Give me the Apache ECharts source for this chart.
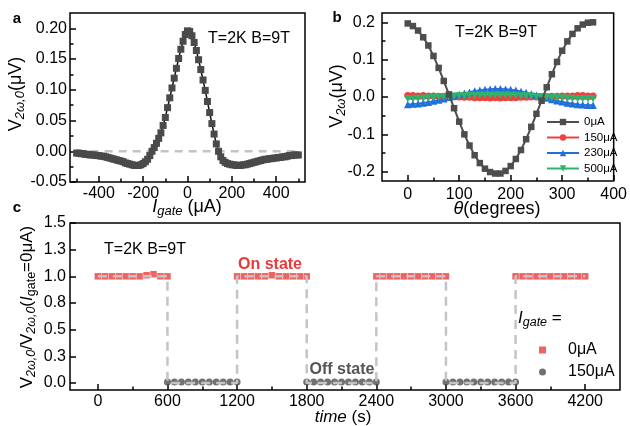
<!DOCTYPE html>
<html><head><meta charset="utf-8">
<script src="https://cdn.jsdelivr.net/npm/echarts@6/dist/echarts.min.js"></script>
<style>html,body{margin:0;padding:0;background:#fff}#c{width:630px;height:426px}</style>
</head><body><div id="c"></div>
<script>
// ---------- Panel a data ----------
const gateCurrent = [
 -500,-490,-480,-470,-460,-450,-440,-430,-420,-410,
 -400,-390,-380,-370,-360,-350,-340,-330,-320,-310,
 -300,-290,-280,-270,-260,-250,-240,-230,-220,-210,
 -200,-190,-180,-170,-160,-150,-140,-130,-120,-110,
 -100,-90,-80,-70,-60,-50,-40,-30,-20,-10,
 0,10,20,30,40,50,60,70,80,90,
 100,110,120,130,140,150,160,170,180,190,
 200,210,220,230,240,250,260,270,280,290,
 300,310,320,330,340,350,360,370,380,390,
 400,410,420,430,440,450,460,470,480,490,500];
const voltageA = [
 -0.003,-0.003,-0.004,-0.004,-0.005,-0.005,-0.006,-0.006,-0.006,-0.007,
 -0.007,-0.008,-0.008,-0.009,-0.010,-0.011,-0.012,-0.013,-0.014,-0.015,
 -0.016,-0.017,-0.019,-0.020,-0.021,-0.022,-0.023,-0.023,-0.023,-0.022,
 -0.020,-0.017,-0.013,-0.007,0.000,0.006,0.013,0.021,0.030,0.042,
 0.055,0.071,0.087,0.103,0.119,0.135,0.151,0.166,0.179,0.190,
 0.196,0.195,0.188,0.177,0.164,0.149,0.133,0.116,0.099,0.081,
 0.063,0.045,0.028,0.012,0.000,-0.009,-0.015,-0.018,-0.020,-0.021,
 -0.022,-0.022,-0.023,-0.023,-0.023,-0.022,-0.022,-0.021,-0.020,-0.019,
 -0.018,-0.017,-0.016,-0.015,-0.014,-0.013,-0.013,-0.012,-0.012,-0.011,
 -0.011,-0.010,-0.010,-0.009,-0.009,-0.008,-0.007,-0.007,-0.006,-0.006,-0.006];
const zeroLevel = 0;
const aXTicks = [-400,-200,0,200,400];
const aXMinor = [-500,-300,-100,100,300,500];
const aYTicks = [-0.05,0,0.05,0.10,0.15,0.20];
const aYMinor = [-0.025,0.025,0.075,0.125,0.175];

// ---------- Panel b data ----------
const angleDeg = [0,10,20,30,40,50,60,70,80,90,100,110,120,130,140,150,160,170,180,
 190,200,210,220,230,240,250,260,270,280,290,300,310,320,330,340,350,360];
const v0uA = [0.197,0.190,0.178,0.160,0.138,0.110,0.078,0.043,0.007,-0.030,-0.066,-0.100,-0.130,
 -0.156,-0.177,-0.192,-0.201,-0.205,-0.205,-0.198,-0.185,-0.166,-0.142,-0.113,-0.080,-0.045,
 -0.010,0.026,0.061,0.094,0.124,0.149,0.169,0.184,0.194,0.199,0.200];
const v150uA = [0.004,0.004,0.003,0.004,0.003,0.003,0.002,0.002,0.001,0.000,0.000,-0.001,-0.001,
 -0.002,-0.002,-0.002,-0.003,-0.002,-0.003,-0.002,-0.002,-0.002,-0.001,-0.001,0.000,0.000,
 0.001,0.001,0.002,0.002,0.003,0.003,0.003,0.004,0.004,0.003,0.003];
const v230uA = [-0.020,-0.019,-0.018,-0.016,-0.014,-0.011,-0.008,-0.005,-0.001,0.003,0.007,0.010,0.013,
 0.016,0.018,0.020,0.021,0.022,0.022,0.021,0.020,0.018,0.015,0.012,0.008,0.005,
 0.001,-0.003,-0.007,-0.010,-0.013,-0.016,-0.018,-0.020,-0.021,-0.022,-0.022];
const v500uA = [-0.005,-0.005,-0.004,-0.004,-0.003,-0.002,-0.001,0.000,0.001,0.002,0.003,0.003,0.004,
 0.004,0.005,0.005,0.005,0.005,0.005,0.005,0.004,0.004,0.003,0.003,0.002,0.001,
 0.000,-0.001,-0.002,-0.003,-0.003,-0.004,-0.004,-0.005,-0.005,-0.005,-0.005];
const bSeriesNames = ['0μA','150μA','230μA','500μA'];
const bXTicks = [0,100,200,300,400];
const bXMinor = [50,150,250,350];
const bYTicks = [-0.2,-0.1,0,0.1,0.2];
const bYMinor = [-0.15,-0.05,0.05,0.15];

// ---------- Panel c data ----------
const onTime = [0,60,120,180,240,300,360,420,480,540,600,
 1200,1260,1320,1380,1440,1500,1560,1620,1680,1740,1800,
 2400,2460,2520,2580,2640,2700,2760,2820,2880,2940,3000,
 3600,3660,3720,3780,3840,3900,3960,4020,4080,4140,4200];
const onRatio = [1.00,1.00,1.00,1.00,1.00,1.00,1.00,1.01,1.02,1.00,1.00,
 1.00,1.00,1.00,1.00,1.00,1.01,1.00,1.00,1.00,1.00,1.00,
 1.00,1.00,1.00,1.00,1.00,1.00,1.00,1.00,1.00,1.00,1.00,
 1.00,1.00,1.00,1.00,1.00,1.00,1.00,1.00,1.00,1.00,1.00];
const offTime = [600,660,720,780,840,900,960,1020,1080,1140,1200,
 1800,1860,1920,1980,2040,2100,2160,2220,2280,2340,2400,
 3000,3060,3120,3180,3240,3300,3360,3420,3480,3540,3600];
const offRatio = [0.01,0.01,0.01,0.01,0.01,0.01,0.01,0.01,0.01,0.01,0.01,
 0.01,0.01,0.01,0.01,0.01,0.01,0.01,0.01,0.01,0.01,0.01,
 0.01,0.01,0.01,0.01,0.01,0.01,0.01,0.01,0.01,0.01,0.01];
const segmentEdges = [0,600,1200,1800,2400,3000,3600,4200];
const segmentLevels = [1,0,1,0,1,0,1];
const cXTicks = [0,600,1200,1800,2400,3000,3600,4200];
const cXMinor = [300,900,1500,2100,2700,3300,3900];
const ratioTicks = [0,0.25,0.5,0.75,1.0,1.25,1.5];
const ratioTickLabels = ['0.0','0.3','0.5','0.8','1.0','1.3','1.5'];
const cSeriesNames = ['0μA','150μA'];

// ---------- build ----------
const FONT = '"Liberation Sans", Arial, Helvetica, sans-serif';
const zip = (xs, ys) => xs.map((x, i) => [x, ys[i]]);
const stepPath = [];
segmentLevels.forEach((lv, i) => { stepPath.push([segmentEdges[i], lv]); stepPath.push([segmentEdges[i + 1], lv]); });

function mainAxis(grid, min, max, ticks, fmt, margin, isX) {
  return {
    type: 'value', gridIndex: grid, min, max,
    position: isX ? 'bottom' : 'left',
    axisLine: {show: false, onZero: false}, splitLine: {show: false},
    axisTick: {show: true, inside: true, length: 6, customValues: ticks, lineStyle: {color: '#000', width: 1.5}},
    axisLabel: {show: true, customValues: ticks, formatter: fmt, margin, fontSize: 16, fontFamily: FONT, color: '#000'}
  };
}
function minorAxis(grid, min, max, ticks, isX) {
  return {
    type: 'value', gridIndex: grid, min, max,
    position: isX ? 'bottom' : 'left',
    axisLine: {show: false, onZero: false}, splitLine: {show: false},
    axisTick: {show: true, inside: true, length: 3.5, customValues: ticks, lineStyle: {color: '#000', width: 1.5}},
    axisLabel: {show: false}
  };
}

const rich = (main, sub) => ({
  n: {fontSize: main, fontFamily: FONT, lineHeight: main + 4, fill: '#000'},
  i: {fontSize: main, fontFamily: FONT, fontStyle: 'italic', lineHeight: main + 4, fill: '#000'},
  s: {fontSize: sub, fontFamily: FONT, fontStyle: 'italic', lineHeight: sub, padding: [main + 4 - sub, 0, 0, 0], fill: '#000'},
  u: {fontSize: sub, fontFamily: FONT, lineHeight: sub, padding: [main + 4 - sub, 0, 0, 0], fill: '#000'}
});
function label(x, y, text, r, rot, align) {
  return {type: 'text', x, y, rotation: rot || 0, z: 100,
    style: {text, rich: r, align: align || 'center', verticalAlign: 'middle', fontFamily: FONT}};
}
function plain(x, y, text, size, color, bold, align) {
  return {type: 'text', x, y, z: 100,
    style: {text, fill: color, fontSize: size, fontFamily: FONT, fontWeight: bold ? 'bold' : 'normal',
      align: align || 'center', verticalAlign: 'middle'}};
}

const option = {
  backgroundColor: '#fff',
  animation: false,
  grid: [
    {left: 70, top: 13, width: 235, height: 169, show: true, borderColor: '#000', borderWidth: 1.5},
    {left: 382, top: 13, width: 237, height: 168, show: true, borderColor: '#000', borderWidth: 1.5},
    {left: 70, top: 223, width: 550, height: 167, show: true, borderColor: '#000', borderWidth: 1.5}
  ],
  xAxis: [
    mainAxis(0, -530, 530, aXTicks, v => String(v), 4, true),
    minorAxis(0, -530, 530, aXMinor, true),
    mainAxis(1, -50, 400, bXTicks, v => String(v), 6, true),
    minorAxis(1, -50, 400, bXMinor, true),
    mainAxis(2, -240, 4500, cXTicks, v => String(v), 4, true),
    minorAxis(2, -240, 4500, cXMinor, true)
  ],
  yAxis: [
    mainAxis(0, -0.05, 0.225, aYTicks, v => v.toFixed(2), 3, false),
    minorAxis(0, -0.05, 0.225, aYMinor, false),
    mainAxis(1, -0.225, 0.225, bYTicks, v => v.toFixed(1), 7, false),
    minorAxis(1, -0.225, 0.225, bYMinor, false),
    mainAxis(2, -0.066, 1.5, ratioTicks, v => ratioTickLabels[ratioTicks.findIndex(t => Math.abs(t - v) < 1e-6)], 4, false)
  ],
  legend: [
    {data: bSeriesNames, orient: 'vertical', left: 541, top: 111, itemWidth: 32, itemHeight: 8, itemGap: 3.5,
     selectedMode: false, textStyle: {fontSize: 11.5, fontFamily: FONT, color: '#000', lineHeight: 12}},
    {data: cSeriesNames.map(n => 'c:' + n), formatter: n => n.slice(2), orient: 'vertical', left: 534, top: 337,
     itemWidth: 7, itemHeight: 7, itemGap: 6, selectedMode: false,
     textStyle: {fontSize: 16, fontFamily: FONT, color: '#000', lineHeight: 16, padding: [0, 0, 0, 17]}}
  ],
  series: [
    // panel a
    {type: 'line', xAxisIndex: 0, yAxisIndex: 0, silent: true, symbol: 'none',
     data: [[gateCurrent[0], zeroLevel], [gateCurrent[gateCurrent.length - 1], zeroLevel]],
     lineStyle: {color: '#c4c4c4', width: 2.5, type: [8, 6]}, z: 1},
    {type: 'line', name: 'a', xAxisIndex: 0, yAxisIndex: 0, data: zip(gateCurrent, voltageA),
     symbol: 'rect', symbolSize: 7, itemStyle: {color: '#4a4a4a'},
     lineStyle: {color: '#111', width: 1.5}, z: 3},
    // panel b
    {type: 'line', name: bSeriesNames[1], xAxisIndex: 2, yAxisIndex: 2, data: zip(angleDeg, v150uA),
     symbol: 'circle', symbolSize: 7, itemStyle: {color: '#ef4040'}, lineStyle: {color: '#ef4040', width: 1.8}, z: 3},
    {type: 'line', name: bSeriesNames[2], xAxisIndex: 2, yAxisIndex: 2, data: zip(angleDeg, v230uA),
     symbol: 'triangle', symbolSize: 7.5, itemStyle: {color: '#1f6fe0'}, lineStyle: {color: '#1f6fe0', width: 1.8}, z: 3},
    {type: 'line', name: bSeriesNames[3], xAxisIndex: 2, yAxisIndex: 2, data: zip(angleDeg, v500uA),
     symbol: 'path://M0,0L10,0L5,9Z', symbolSize: 7.5, itemStyle: {color: '#2db36b'}, lineStyle: {color: '#2db36b', width: 1.8}, z: 3},
    {type: 'line', name: bSeriesNames[0], xAxisIndex: 2, yAxisIndex: 2, data: zip(angleDeg, v0uA),
     symbol: 'rect', symbolSize: 6.5, itemStyle: {color: '#4d4d4d'}, lineStyle: {color: '#4d4d4d', width: 2}, z: 4},
    // panel c
    {type: 'scatter', name: 'c:' + cSeriesNames[0], xAxisIndex: 4, yAxisIndex: 4, data: zip(onTime, onRatio),
     symbol: 'rect', symbolSize: 6.5, itemStyle: {color: '#ee3b3b'}, z: 2},
    {type: 'scatter', name: 'c:' + cSeriesNames[1], xAxisIndex: 4, yAxisIndex: 4, data: zip(offTime, offRatio),
     symbol: 'circle', symbolSize: 7, itemStyle: {color: '#4d4d4d'}, z: 2},
    {type: 'line', xAxisIndex: 4, yAxisIndex: 4, data: stepPath, symbol: 'none', silent: true,
     lineStyle: {color: '#c4c4c4', width: 2.5, type: [9, 6]}, z: 3}
  ],
  graphic: [
    plain(17, 19, 'a', 15, '#000', true),
    plain(337, 18, 'b', 15, '#000', true),
    plain(17, 208, 'c', 15, '#000', true),
    plain(249, 39, 'T=2K B=9T', 16, '#000', false),
    plain(496, 33, 'T=2K B=9T', 16, '#000', false),
    plain(145, 250, 'T=2K B=9T', 16, '#000', false),
    plain(270, 265, 'On state', 16, '#e83a3a', true),
    plain(342, 370, 'Off state', 16, '#555', true),
    label(16, 94, '{n|V}{s|2ω,0}{n|(μV)}', rich(18, 13), Math.PI / 2),
    label(187, 207, '{i|I}{s|gate}{n| (μA)}', rich(18, 13), 0),
    label(337, 96, '{n|V}{s|2ω}{n|(μV)}', rich(18, 13), Math.PI / 2),
    label(497, 209, '{i|θ}{n|(degrees)}', rich(18, 13), 0),
    label(27, 307, '{n|V}{s|2ω,0}{n|/V}{s|2ω,0}{n|(}{i|I}{u|gate}{n|=0μA)}', rich(17, 12.5), Math.PI / 2),
    label(343, 417, '{i|time}{n| (s)}', rich(17, 12.5), 0),
    label(518, 318, '{i|I}{s|gate}{n| =}', rich(17, 12.5), 0, 'left')
  ]
};
const chart = echarts.init(document.getElementById('c'), null, {renderer: 'canvas'});
chart.setOption(option);
</script></body></html>
